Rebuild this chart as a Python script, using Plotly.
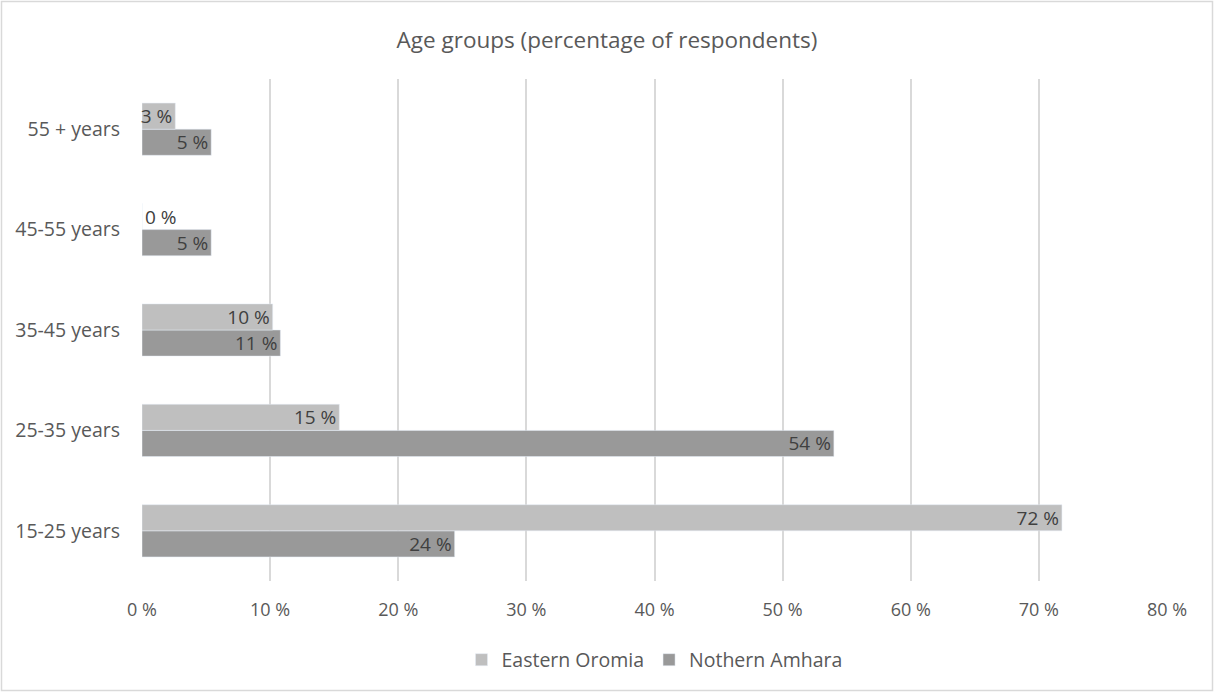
import plotly.graph_objects as go

# Age groups, bottom to top
age_groups = ["15-25 years", "25-35 years", "35-45 years", "45-55 years", "55 + years"]
eastern_oromia = [71.8, 15.4, 10.2, 0.0, 2.6]
northern_amhara = [24.4, 54.0, 10.8, 5.4, 5.4]
x_ticks = [0, 10, 20, 30, 40, 50, 60, 70, 80]
x_tick_labels = [f"{v} %" for v in x_ticks]

FONT = "'Open Sans', sans-serif"
TEXT = "#595959"
LABEL = "#404040"


def label_positions(values):
    # zero-length bars cannot hold their label, so it goes just outside
    return ["outside" if v == 0 else "inside" for v in values]


fig = go.Figure()
# Northern Amhara drawn first so it sits below Eastern Oromia within each group
fig.add_trace(go.Bar(
    y=age_groups, x=northern_amhara, name="Nothern Amhara", orientation="h",
    marker=dict(color="#999999"),
    texttemplate="%{x:.0f} %", textposition=label_positions(northern_amhara),
    insidetextanchor="end", cliponaxis=False,
    insidetextfont=dict(color=LABEL, size=19, family=FONT),
    outsidetextfont=dict(color=LABEL, size=19, family=FONT),
))
fig.add_trace(go.Bar(
    y=age_groups, x=eastern_oromia, name="Eastern Oromia", orientation="h",
    marker=dict(color="#bfbfbf"),
    texttemplate="%{x:.0f} %", textposition=label_positions(eastern_oromia),
    insidetextanchor="end", cliponaxis=False,
    insidetextfont=dict(color=LABEL, size=19, family=FONT),
    outsidetextfont=dict(color=LABEL, size=19, family=FONT),
))

W, H = 1214, 693
ml, mr, mt, mb = 142, 47, 79, 112
pw, ph = W - ml - mr, H - mt - mb

fig.update_layout(
    width=W, height=H,
    margin=dict(l=ml, r=mr, t=mt, b=mb),
    paper_bgcolor="white", plot_bgcolor="white",
    barmode="group", bargap=0.48, bargroupgap=0,
    uniformtext=dict(minsize=19, mode="show"),
    title=dict(text="Age groups (percentage of respondents)", x=0.5, xanchor="center",
               y=1 - 40 / H, yanchor="middle",
               font=dict(size=22.5, color=TEXT, family=FONT)),
    font=dict(family=FONT, color=TEXT, size=18),
    xaxis=dict(range=[0, 80], tickvals=x_ticks, ticktext=x_tick_labels,
               showgrid=True, gridcolor="#d9d9d9", gridwidth=1.5,
               zeroline=False, showline=False, ticks="",
               tickfont=dict(size=18, color=TEXT), ticklabelstandoff=16),
    yaxis=dict(showgrid=False, zeroline=False, showline=False, ticks="",
               tickfont=dict(size=19.5, color=TEXT), ticklabelstandoff=21),
    legend=dict(orientation="h", x=0.5, xanchor="center", y=-(660 - 581) / ph,
                yanchor="middle", traceorder="reversed",
                font=dict(size=19.5, color=TEXT, family=FONT)),
    shapes=[dict(type="rect", xref="paper", yref="paper",
                 x0=(1.5 - ml) / pw, x1=(W - 1.5 - ml) / pw,
                 y0=-(H - 2.5 - mt - ph) / ph, y1=1 + (mt - 1.5) / ph,
                 line=dict(color="#d9d9d9", width=1.5), layer="below")],
)

fig.write_html("out.html")
